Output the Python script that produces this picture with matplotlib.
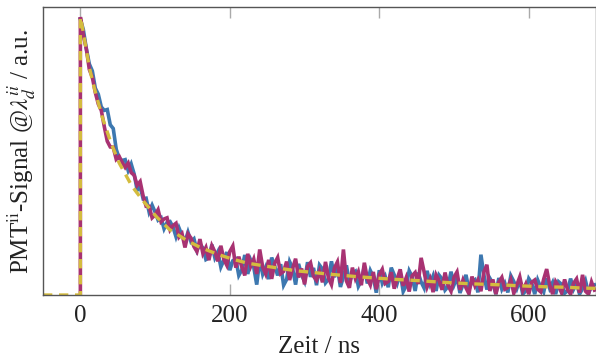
import numpy as np
import matplotlib
matplotlib.use('Agg')
import matplotlib.pyplot as plt

# time grid of the two measured traces (ns), 4 ns steps
t = np.arange(0, 692, 4)

# PMT signal, magenta trace (x1000)
sig_mag = [965, 903, 854, 783, 756, 703, 663, 641, 585, 534,
           514, 513, 471, 481, 460, 443, 458, 425, 416, 381,
           394, 344, 308, 308, 268, 278, 296, 254, 264, 268,
           226, 241, 249, 201, 213, 165, 212, 198, 168, 151,
           194, 144, 165, 121, 171, 150, 117, 171, 124, 103,
           151, 170, 95, 133, 98, 68, 143, 100, 125, 73,
           158, 97, 73, 122, 56, 110, 130, 74, 82, 116,
           52, 92, 126, 61, 92, 37, 99, 112, 65, 51,
           82, 44, 115, 59, 36, 94, 115, 42, 158, 49,
           25, 95, 57, 81, 34, 112, 57, 35, 80, 20,
           70, 89, 40, 47, 79, 22, 57, 89, 32, 60,
           12, 67, 78, 38, 129, 80, 28, 55, 10, 70,
           50, 18, 78, 33, 13, 62, 80, 18, 52, 25,
           4, 64, 32, 52, 13, 80, 105, 14, 54, 3,
           45, 61, 20, 26, 53, 6, 35, 63, 15, 38,
           3, 44, 52, 20, 11, 55, 90, 35, 3, 47,
           31, 7, 54, 18, 3, 41, 56, 8, 70, 13,
           3, 45, 17]

# PMT signal, blue trace (x1000)
sig_blue = [958, 921, 855, 802, 778, 718, 697, 653, 641, 644,
            591, 578, 506, 474, 467, 470, 432, 455, 420, 364,
            376, 334, 336, 288, 312, 288, 260, 268, 230, 252,
            255, 236, 202, 233, 207, 185, 218, 185, 195, 155,
            177, 163, 123, 129, 175, 129, 150, 97, 121, 149,
            86, 119, 125, 68, 87, 139, 73, 121, 97, 36,
            124, 72, 97, 55, 130, 102, 68, 107, 34, 54,
            116, 93, 36, 108, 70, 47, 114, 63, 94, 34,
            104, 90, 42, 55, 117, 62, 93, 28, 63, 103,
            42, 74, 82, 30, 50, 100, 40, 85, 63, 8,
            86, 41, 64, 27, 95, 70, 41, 77, 12, 32,
            84, 63, 14, 78, 45, 24, 84, 39, 66, 14,
            69, 56, 17, 29, 81, 35, 61, 7, 37, 70,
            18, 46, 53, 9, 140, 69, 19, 58, 40, 3,
            59, 20, 41, 9, 67, 47, 22, 52, 3, 14,
            57, 41, 3, 52, 27, 10, 58, 23, 44, 3,
            46, 37, 6, 15, 57, 20, 41, 3, 22, 49,
            6, 30, 35]

# fitted decay (dashed)
t_fit = [-50, 0, 0, 1, 12, 19, 29, 41, 52, 69, 83, 102, 119, 142, 159, 183,
         203, 223, 246, 266, 289, 309, 330, 352, 373, 395, 416, 437, 458,
         479, 500, 522, 543, 565, 586, 607, 629, 650, 672, 690]
sig_fit = [0, 0, 965, 955, 790, 715, 620, 528, 458, 378, 330, 271, 228, 190,
           167, 142, 125, 111, 101, 93, 84, 79, 73, 68, 63, 59, 55, 52, 49,
           45, 42, 39, 37, 35, 32, 30, 28, 27, 24, 23]

c_blue = '#3d78b0'
c_mag = '#a83272'
c_yel = '#d4bc3e'

plt.rcParams['font.family'] = 'Liberation Serif'
plt.rcParams['mathtext.fontset'] = 'stix'

fig = plt.figure(figsize=(5.96, 3.61), dpi=100)
ax = fig.add_axes([43/596, 1 - 295/361, 1 - 43/596, 288/361])

ax.plot(t, np.array(sig_blue)/1000, color=c_blue, lw=2.6, solid_joinstyle='miter')
t_mag = np.concatenate([[0], t])
ax.plot(t_mag, np.concatenate([[0], sig_mag])/1000, color=c_mag, lw=2.6,
        solid_joinstyle='miter')
ax.plot(t_fit, np.array(sig_fit)/1000, color=c_yel, lw=2.4, dashes=(2.8, 2.0))

ax.set_xlim(-50, 690)
ax.set_ylim(0, 1.0)
ax.set_xticks([0, 200, 400, 600])
ax.set_yticks([])
ax.tick_params(axis='x', direction='in', length=8, width=1, color='#aaaaaa',
               top=True, labelsize=18, pad=7, labelcolor='#222222')
for s in ax.spines.values():
    s.set_color('#555555')
    s.set_linewidth(1.0)

ax.set_xlabel('Zeit / ns', fontsize=18, color='#222222', labelpad=7)
ax.set_ylabel(r'PMT$^{\mathrm{ii}}$-Signal @$\lambda_d^{ii}$ / a.u.', fontsize=18,
              color='#222222', labelpad=4)

fig.savefig('out.png', dpi=100)
